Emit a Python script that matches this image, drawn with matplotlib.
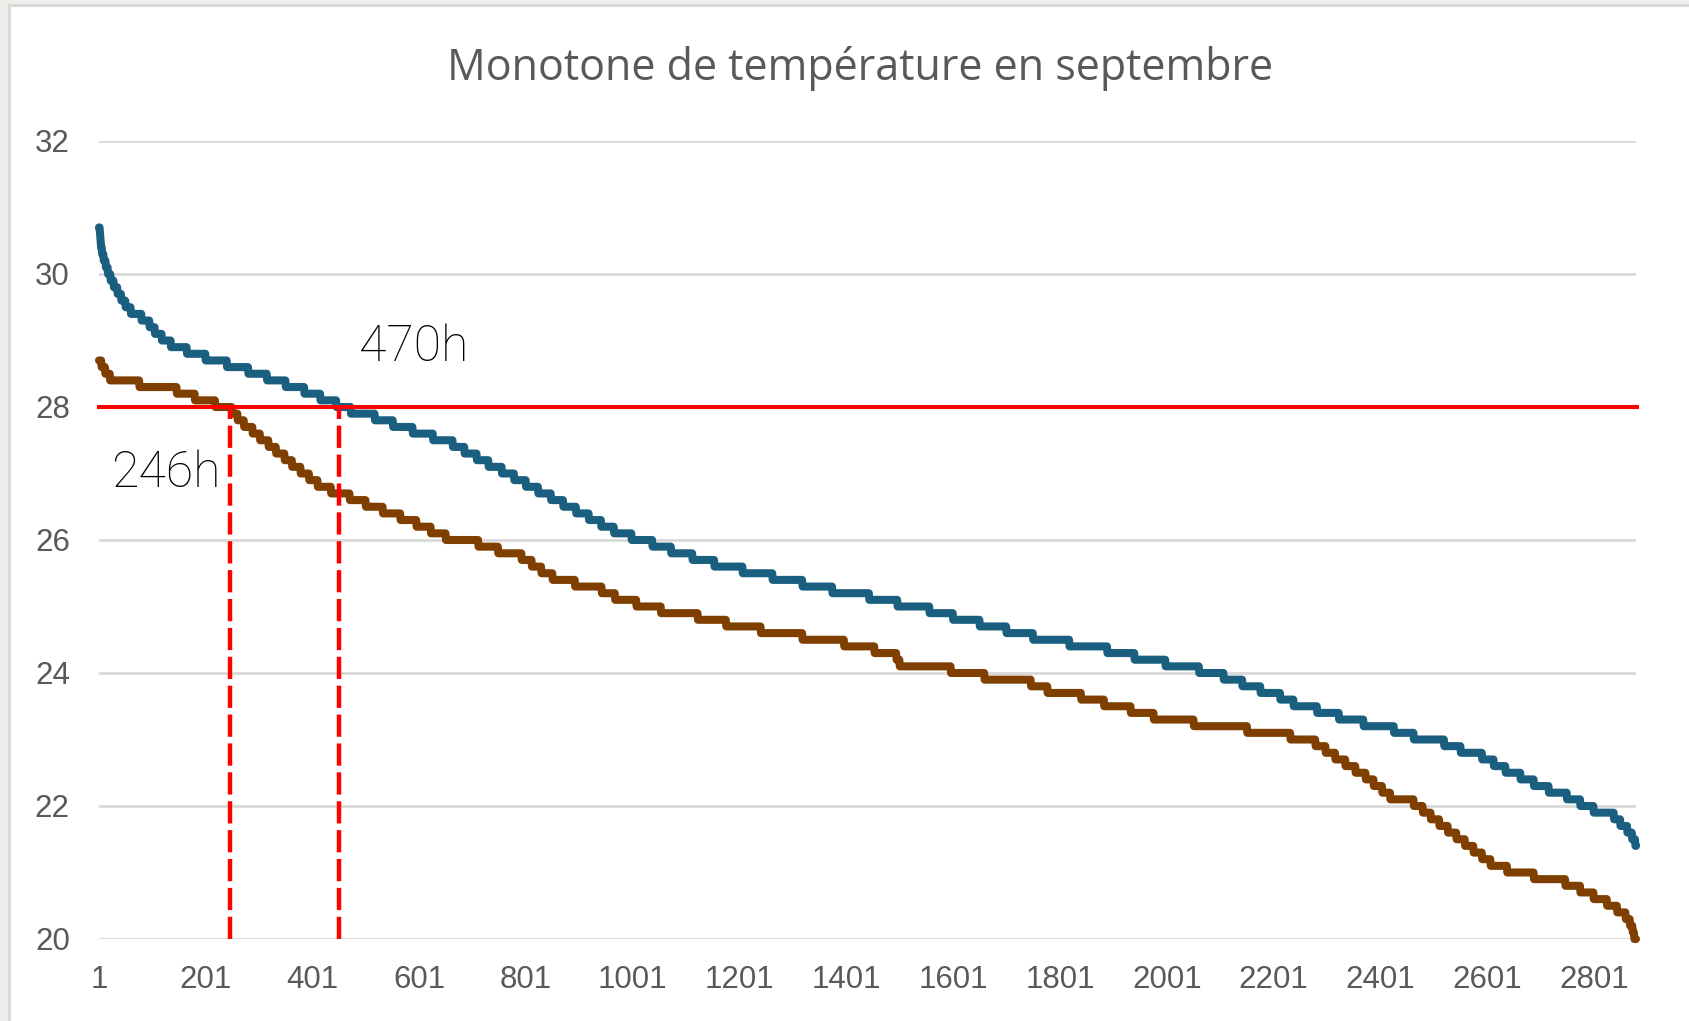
import numpy as np
import matplotlib
matplotlib.use("Agg")
import matplotlib.pyplot as plt
from matplotlib.patches import Rectangle

# ---------------- data ----------------
title = "Monotone de température en septembre"

# Sorted temperatures, run-length encoded: level (°C) and the last index at that level
blue_levels = [30.7, 30.6, 30.5, 30.4, 30.3, 30.2, 30.1, 30.0, 29.9, 29.8, 29.7, 29.6,
               29.5, 29.4, 29.3, 29.2, 29.1, 29.0, 28.9, 28.8, 28.7, 28.6, 28.5, 28.4,
               28.3, 28.2, 28.1, 28.0, 27.9, 27.8, 27.7, 27.6, 27.5, 27.4, 27.3, 27.2,
               27.1, 27.0, 26.9, 26.8, 26.7, 26.6, 26.5, 26.4, 26.3, 26.2, 26.1, 26.0,
               25.9, 25.8, 25.7, 25.6, 25.5, 25.4, 25.3, 25.2, 25.1, 25.0, 24.9, 24.8,
               24.7, 24.6, 24.5, 24.4, 24.3, 24.2, 24.1, 24.0, 23.9, 23.8, 23.7, 23.6,
               23.5, 23.4, 23.3, 23.2, 23.1, 23.0, 22.9, 22.8, 22.7, 22.6, 22.5, 22.4,
               22.3, 22.2, 22.1, 22.0, 21.9, 21.8, 21.7, 21.6, 21.5, 21.4]
blue_end_idx = [2, 3, 4, 6, 9, 13, 17, 22, 28, 35, 42, 50,
                60, 80, 95, 105, 118, 135, 165, 200, 240, 280, 315, 350,
                385, 415, 445, 472, 517, 551, 588, 626, 663, 685, 708, 730,
                755, 778, 800, 823, 847, 870, 894, 918, 941, 965, 998, 1037,
                1072, 1112, 1153, 1206, 1262, 1318, 1374, 1443, 1496, 1556, 1600, 1650,
                1700, 1750, 1818, 1889, 1940, 1998, 2061, 2107, 2142, 2176, 2213, 2238,
                2282, 2323, 2369, 2426, 2463, 2520, 2551, 2591, 2613, 2635, 2663, 2688,
                2716, 2750, 2775, 2800, 2838, 2850, 2863, 2872, 2878, 2880]

brown_levels = [28.7, 28.6, 28.5, 28.4, 28.3, 28.2, 28.1, 28.0, 27.9, 27.8, 27.7, 27.6,
                27.5, 27.4, 27.3, 27.2, 27.1, 27.0, 26.9, 26.8, 26.7, 26.6, 26.5, 26.4,
                26.3, 26.2, 26.1, 26.0, 25.9, 25.8, 25.7, 25.6, 25.5, 25.4, 25.3, 25.2,
                25.1, 25.0, 24.9, 24.8, 24.7, 24.6, 24.5, 24.4, 24.3, 24.2, 24.1, 24.0,
                23.9, 23.8, 23.7, 23.6, 23.5, 23.4, 23.3, 23.2, 23.1, 23.0, 22.9, 22.8,
                22.7, 22.6, 22.5, 22.4, 22.3, 22.2, 22.1, 22.0, 21.9, 21.8, 21.7, 21.6,
                21.5, 21.4, 21.3, 21.2, 21.1, 21.0, 20.9, 20.8, 20.7, 20.6, 20.5, 20.4,
                20.3, 20.2, 20.1, 20.0]
brown_end_idx = [5, 12, 21, 76, 146, 180, 218, 249, 260, 272, 288, 302,
                 318, 332, 348, 362, 378, 394, 410, 435, 470, 500, 532, 565,
                 595, 622, 650, 711, 748, 792, 811, 829, 850, 892, 942, 967,
                 1007, 1053, 1122, 1175, 1240, 1318, 1396, 1453, 1494, 1500, 1596, 1659,
                 1746, 1777, 1840, 1883, 1933, 1976, 2051, 2151, 2232, 2279, 2298, 2316,
                 2335, 2354, 2373, 2388, 2404, 2419, 2463, 2480, 2495, 2511, 2527, 2543,
                 2559, 2575, 2591, 2607, 2638, 2688, 2747, 2775, 2800, 2825, 2844, 2860,
                 2868, 2873, 2876, 2880]

threshold = 28
cross_idx = [246, 451]
cross_labels = ["246h", "470h"]
label_pos = [(23, 27.0), (488, 28.9)]

y_ticks = [20, 22, 24, 26, 28, 30, 32]
x_ticks = list(range(1, 2802, 200))

# ---------------- build series ----------------
def expand(levels, ends):
    counts = np.diff(np.concatenate([[0], ends]))
    return np.repeat(levels, counts)

blue = expand(blue_levels, blue_end_idx)
brown = expand(brown_levels, brown_end_idx)
x_blue = np.arange(1, len(blue) + 1)
x_brown = np.arange(1, len(brown) + 1)

# ---------------- figure ----------------
W, H = 1690, 1021
fig = plt.figure(figsize=(W / 100, H / 100), dpi=100)
fig.patch.set_facecolor("#eeeeea")
fig.add_artist(Rectangle((8 / W, 0), 1, 1 - 4 / H, transform=fig.transFigure,
                         facecolor="#d9d9d9", edgecolor="none", zorder=-2))
fig.add_artist(Rectangle((11 / W, 0), 1, 1 - 7 / H, transform=fig.transFigure,
                         facecolor="white", edgecolor="none", zorder=-1))

ax = fig.add_axes([99 / W, 1 - 939 / H, (1636 - 99) / W, (939 - 141) / H])
ax.set_facecolor("none")

ax.set_xlim(1, 2880)
ax.set_ylim(20, 32)
ax.set_yticks(y_ticks)
ax.set_xticks(x_ticks)
ax.set_xticklabels([str(t) for t in x_ticks])
ax.set_yticklabels([str(t) for t in y_ticks])
ax.grid(axis="y", color="#d9d9d9", linewidth=2.0, zorder=0)
ax.grid(axis="x", visible=False)
for s in ax.spines.values():
    s.set_visible(False)
ax.tick_params(axis="both", length=0, labelsize=22.5, labelcolor="#595959")
ax.tick_params(axis="y", pad=21)
ax.tick_params(axis="x", pad=19)
for lab in ax.get_xticklabels() + ax.get_yticklabels():
    lab.set_family("Liberation Sans")

ax.plot(x_blue, blue, color="#1a5f80", linewidth=5.8, solid_joinstyle="round",
        solid_capstyle="round", zorder=3, clip_on=False)
ax.plot(x_brown, brown, color="#7f3f00", linewidth=5.8, solid_joinstyle="round",
        solid_capstyle="round", zorder=3, clip_on=False)

ax.plot([1, 2882], [threshold, threshold], color="#ff0000", linewidth=2.9, zorder=4,
        clip_on=False)
for xi in cross_idx:
    ax.plot([xi, xi], [20, threshold], color="#ff0000", linewidth=3.2,
            linestyle=(0, (5, 1.5)), zorder=5)

for (lx, ly), txt in zip(label_pos, cross_labels):
    ax.text(lx, ly, txt, fontsize=36, family="Roboto", fontweight="light",
            color="#000000", ha="left", va="center", zorder=6)

fig.text(860 / W, 1 - 68 / H, title, fontsize=31, family="Open Sans",
         color="#595959", ha="center", va="center")

fig.savefig("out.png", dpi=100)
